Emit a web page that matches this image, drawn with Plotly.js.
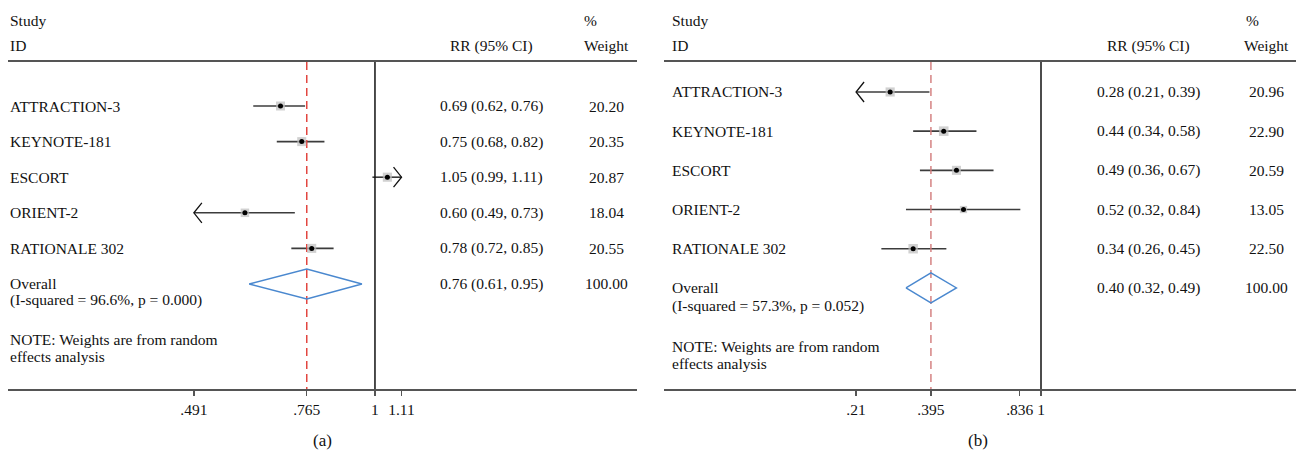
<!DOCTYPE html>
<html>
<head>
<meta charset="utf-8">
<script src="https://cdn.plot.ly/plotly-3.0.1.min.js"></script>
<style>
  html, body { margin: 0; padding: 0; background: #fff; }
  #chart { width: 1296px; height: 453px; }
</style>
</head>
<body>
<div id="chart"></div>
<script>
// ---------------- DATA ----------------
const studies = ['ATTRACTION-3', 'KEYNOTE-181', 'ESCORT', 'ORIENT-2', 'RATIONALE 302'];

// Panel (a)
const rrA = [0.69, 0.75, 1.05, 0.60, 0.78];
const loA = [0.62, 0.68, 0.99, 0.49, 0.72];
const hiA = [0.76, 0.82, 1.11, 0.73, 0.85];
const weightA = [20.20, 20.35, 20.87, 18.04, 20.55];
const overallA = [0.76, 0.61, 0.95];
const pooledA = 0.765;
const hetA = '(I-squared = 96.6%, p = 0.000)';
const tickValsA = [0.491, 0.765, 1, 1.11];
const tickTextA = ['.491', '.765', '1', '1.11'];
const limitsA = [0.491, 1.11];

// Panel (b)
const rrB = [0.28, 0.44, 0.49, 0.52, 0.34];
const loB = [0.21, 0.34, 0.36, 0.32, 0.26];
const hiB = [0.39, 0.58, 0.67, 0.84, 0.45];
const weightB = [20.96, 22.90, 20.59, 13.05, 22.50];
const overallB = [0.40, 0.32, 0.49];
const pooledB = 0.395;
const hetB = '(I-squared = 57.3%, p = 0.052)';
const tickValsB = [0.21, 0.395, 0.836, 1];
const tickTextB = ['.21', '.395', '.836', '1'];
const limitsB = [0.21, 1];

const noteLines = ['NOTE: Weights are from random', 'effects analysis'];

// ---------------- LAYOUT HELPERS ----------------
const W = 1296, H = 453;
const FONT = 'Liberation Serif, "Times New Roman", serif';
const TOP_PX = 62, BOT_PX = 389;
const px = x => x / W;
const py = y => 1 - y / H;

function fmt2(v) { return v.toFixed(2); }

const traces = [];
const annotations = [];

function panel(cfg) {
  const d = cfg;
  const yr = d.yrange; // [bottom, top]
  const rowsPerPx = (yr[0] - yr[1]) / (BOT_PX - TOP_PX);
  const lnPerPx = 1 / d.pxPerLn;
  const xa = d.xa, ya = d.ya;
  const n = d.rr.length;

  // CI lines
  const cx = [], cy = [];
  const ax = [], ay = [];
  for (let i = 0; i < n; i++) {
    const r = i + 1;
    const lo = Math.max(d.lo[i], d.lim[0]);
    const hi = Math.min(d.hi[i], d.lim[1]);
    cx.push(lo, hi, null); cy.push(r, r, null);
    const dx = Math.exp(8 * lnPerPx), dy = 10 * rowsPerPx;
    if (d.lo[i] <= d.lim[0]) {
      ax.push(lo * dx, lo, lo * dx, null); ay.push(r - dy, r, r + dy, null);
    }
    if (d.hi[i] >= d.lim[1]) {
      ax.push(hi / dx, hi, hi / dx, null); ay.push(r - dy, r, r + dy, null);
    }
  }
  traces.push({x: cx, y: cy, xaxis: xa, yaxis: ya, mode: 'lines', hoverinfo: 'skip',
    line: {color: '#3c3c3c', width: 1.6}});
  traces.push({x: ax, y: ay, xaxis: xa, yaxis: ya, mode: 'lines', hoverinfo: 'skip',
    line: {color: '#111', width: 1.3}});

  // pooled dashed line
  traces.push({x: [d.pooled, d.pooled], y: [yr[1], yr[0]], xaxis: xa, yaxis: ya, mode: 'lines',
    hoverinfo: 'skip', line: {color: d.dashColor, width: 1.4, dash: '8px,5px'}});
  // null line
  traces.push({x: [1, 1], y: [yr[1], yr[0]], xaxis: xa, yaxis: ya, mode: 'lines',
    hoverinfo: 'skip', line: {color: '#111', width: 1.5}});

  // weight boxes
  traces.push({x: d.rr, y: d.rr.map((_, i) => i + 1), xaxis: xa, yaxis: ya, mode: 'markers',
    hoverinfo: 'skip',
    marker: {symbol: 'square', size: d.w.map(v => 2 * Math.sqrt(v)), color: '#bdbdbd', line: {width: 0}}});
  // point estimates
  traces.push({x: d.rr, y: d.rr.map((_, i) => i + 1), xaxis: xa, yaxis: ya, mode: 'markers',
    hoverinfo: 'skip', marker: {symbol: 'circle', size: 5, color: '#000'}});

  // diamond
  const ro = n + 1, h = 15 * rowsPerPx;
  traces.push({x: [d.overall[1], d.pooled, d.overall[2], d.pooled, d.overall[1]],
    y: [ro, ro - h, ro, ro + h, ro], xaxis: xa, yaxis: ya, mode: 'lines', hoverinfo: 'skip',
    line: {color: '#4a88cf', width: 1.4}});

  // texts
  const T = (x, y, text, anchor, yref, size) => annotations.push({
    x: px(x), xref: 'paper', y: y, yref: yref, text: text, showarrow: false,
    xanchor: anchor, yanchor: 'middle', font: {family: FONT, size: size || 15.5, color: '#111'}});

  T(d.nameX, py(20), 'Study', 'left', 'paper');
  T(d.nameX, py(46), 'ID', 'left', 'paper');
  T(d.rrX, py(46), 'RR (95% CI)', 'center', 'paper');
  T(d.pctX, py(20), '%', 'left', 'paper');
  T(d.wX, py(46), 'Weight', 'center', 'paper');

  for (let i = 0; i < n; i++) {
    const r = i + 1;
    T(d.nameX, r, studies[i], 'left', ya);
    T(d.rrX, r, fmt2(d.rr[i]) + ' (' + fmt2(d.lo[i]) + ', ' + fmt2(d.hi[i]) + ')', 'center', ya);
    T(d.wX, r, fmt2(d.w[i]), 'center', ya);
  }
  T(d.nameX, ro, 'Overall', 'left', ya);
  T(d.nameX, d.hetRow, d.het, 'left', ya);
  T(d.rrX, ro, fmt2(d.overall[0]) + ' (' + fmt2(d.overall[1]) + ', ' + fmt2(d.overall[2]) + ')', 'center', ya);
  T(d.wX, ro, '100.00', 'center', ya);
  T(d.nameX, d.noteRows[0], noteLines[0], 'left', ya);
  T(d.nameX, d.noteRows[1], noteLines[1], 'left', ya);
  T(d.labelX, py(440), d.label, 'center', 'paper', 17);
}

panel({xa: 'x', ya: 'y', rr: rrA, lo: loA, hi: hiA, w: weightA, overall: overallA, pooled: pooledA,
  lim: limitsA, pxPerLn: 254.6, yrange: [8.95, -0.236], dashColor: '#e03a34',
  nameX: 8, rrX: 491, pctX: 582, wX: 606, het: hetA, hetRow: 6.45, noteRows: [7.57, 8.05],
  labelX: 322, label: '(a)'});
panel({xa: 'x2', ya: 'y2', rr: rrB, lo: loB, hi: hiB, w: weightB, overall: overallB, pooled: pooledB,
  lim: limitsB, pxPerLn: 118.5, yrange: [8.58, 0.235], dashColor: '#d27a7a',
  nameX: 670, rrX: 1148, pctX: 1244, wX: 1266, het: hetB, hetRow: 6.45, noteRows: [7.5, 7.93],
  labelX: 978, label: '(b)'});

const axisCommon = {
  type: 'log', showgrid: false, zeroline: false, showline: true, mirror: true,
  linecolor: '#555', linewidth: 2, ticks: 'outside', ticklen: 5, tickwidth: 1.3, tickcolor: '#555',
  tickfont: {family: FONT, size: 15.5, color: '#111'}, anchor: 'free', fixedrange: true
};
const yDomain = [py(BOT_PX), py(TOP_PX)];

const layout = {
  width: W, height: H, margin: {l: 0, r: 0, t: 0, b: 0},
  paper_bgcolor: '#fff', plot_bgcolor: 'rgba(0,0,0,0)', showlegend: false,
  xaxis: Object.assign({}, axisCommon, {domain: [px(8), px(637)], range: [-0.626, 0.447],
    tickvals: tickValsA, ticktext: tickTextA, anchor: 'y'}),
  xaxis2: Object.assign({}, axisCommon, {domain: [px(664), 1], range: [-1.3817, 0.9346],
    tickvals: tickValsB, ticktext: tickTextB, anchor: 'y2'}),
  yaxis: {domain: yDomain, range: [8.95, -0.236], visible: false, fixedrange: true, anchor: 'x'},
  yaxis2: {domain: yDomain, range: [8.58, 0.235], visible: false, fixedrange: true, anchor: 'x2'},
  annotations: annotations
};

Plotly.newPlot('chart', traces, layout, {displayModeBar: false, staticPlot: true});
</script>
</body>
</html>
